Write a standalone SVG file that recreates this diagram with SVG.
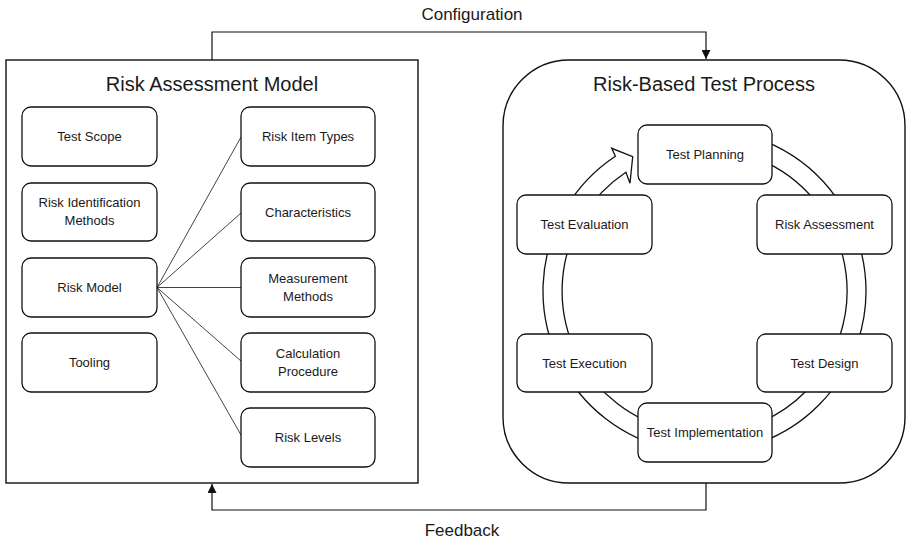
<svg xmlns="http://www.w3.org/2000/svg" width="906" height="543" viewBox="0 0 906 543">
<style>
text{font-family:"Liberation Sans",Arial,sans-serif;fill:#1a1a1a;text-anchor:middle}
.t{font-size:13px}
.title{font-size:20px}
.lbl{font-size:17px}
.box{fill:#fff;stroke:#111;stroke-width:1.3}
.cont{fill:#fff;stroke:#111;stroke-width:1.4}
.ln{fill:none;stroke:#111;stroke-width:0.8}
.conn{fill:none;stroke:#111;stroke-width:1.2}
</style>
<defs>
<marker id="ah" viewBox="0 0 10 10" refX="10" refY="5" markerWidth="9" markerHeight="9" markerUnits="userSpaceOnUse" orient="auto">
<path d="M0,0 L10,5 L0,10 Z" fill="#111"/>
</marker>
</defs>
<rect width="906" height="543" fill="#fff"/>

<g id="connectors">
<path class="conn" d="M212,60 V32 H706 V59" marker-end="url(#ah)"/>
<path class="conn" d="M706,483 V510 H212 V484" marker-end="url(#ah)"/>
<text class="lbl" x="472" y="20">Configuration</text>
<text class="lbl" x="462" y="536">Feedback</text>
</g>

<g id="risk-assessment-model">
<rect class="cont" x="6" y="60" width="412" height="423"/>
<text class="title" x="212" y="91">Risk Assessment Model</text>
</g>

<g id="model-links">
<path class="ln" d="M157,287.5 L241,137 M157,287.5 L241,213 M157,287.5 L241,287.5 M157,287.5 L241,361 M157,287.5 L241,435"/>
</g>

<g id="test-scope"><rect class="box" x="22" y="107" width="135" height="59" rx="9"/><text class="t" x="89.5" y="141">Test Scope</text></g>
<g id="risk-identification-methods"><rect class="box" x="22" y="183" width="135" height="58" rx="9"/><text class="t" x="89.5" y="207">Risk Identification</text><text class="t" x="89.5" y="225">Methods</text></g>
<g id="risk-model"><rect class="box" x="22" y="258" width="135" height="59" rx="9"/><text class="t" x="89.5" y="292">Risk Model</text></g>
<g id="tooling"><rect class="box" x="22" y="333" width="135" height="59" rx="9"/><text class="t" x="89.5" y="367">Tooling</text></g>

<g id="risk-item-types"><rect class="box" x="241" y="107" width="134" height="59" rx="9"/><text class="t" x="308" y="141">Risk Item Types</text></g>
<g id="characteristics"><rect class="box" x="241" y="183" width="134" height="58" rx="9"/><text class="t" x="308" y="216.5">Characteristics</text></g>
<g id="measurement-methods"><rect class="box" x="241" y="258" width="134" height="59" rx="9"/><text class="t" x="308" y="283">Measurement</text><text class="t" x="308" y="301">Methods</text></g>
<g id="calculation-procedure"><rect class="box" x="241" y="333" width="134" height="59" rx="9"/><text class="t" x="308" y="358">Calculation</text><text class="t" x="308" y="376">Procedure</text></g>
<g id="risk-levels"><rect class="box" x="241" y="408" width="134" height="59" rx="9"/><text class="t" x="308" y="442">Risk Levels</text></g>

<g id="risk-based-test-process">
<rect class="cont" x="503" y="60" width="402" height="423" rx="66"/>
<text class="title" x="704" y="91">Risk-Based Test Process</text>
</g>

<g id="cycle-arrow">
<path class="box" d="M704.5,129.5 A161.5,161.5 0 1 1 615.4,156.3 L611.7,148.3 L632.7,156.7 L630,183.3 L625.9,172.2 A142.5,142.5 0 1 0 704.5,148.5 Z"/>
</g>

<g id="test-planning"><rect class="box" x="638" y="125" width="134" height="59" rx="9"/><text class="t" x="705" y="159">Test Planning</text></g>
<g id="test-evaluation"><rect class="box" x="517" y="195" width="135" height="59" rx="9"/><text class="t" x="584.5" y="229">Test Evaluation</text></g>
<g id="risk-assessment"><rect class="box" x="757" y="195" width="135" height="59" rx="9"/><text class="t" x="824.5" y="229">Risk Assessment</text></g>
<g id="test-execution"><rect class="box" x="517" y="334" width="135" height="58" rx="9"/><text class="t" x="584.5" y="367.5">Test Execution</text></g>
<g id="test-design"><rect class="box" x="757" y="334" width="135" height="58" rx="9"/><text class="t" x="824.5" y="367.5">Test Design</text></g>
<g id="test-implementation"><rect class="box" x="638" y="403" width="134" height="59" rx="9"/><text class="t" x="705" y="437">Test Implementation</text></g>
</svg>
